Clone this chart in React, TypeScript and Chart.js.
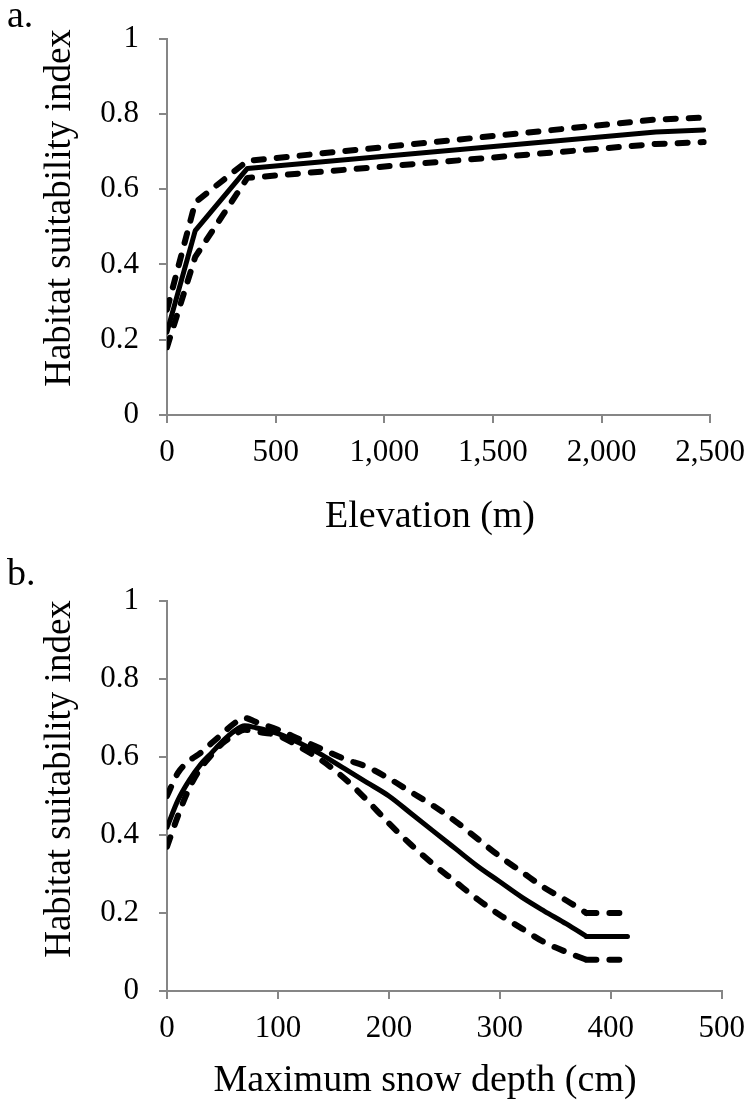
import React, { useEffect, useRef } from "react";
import { Chart, registerables } from "chart.js";

Chart.register(...registerables);

const FONT = '"Liberation Serif", "Times New Roman", serif';
const AXIS_GREY = "#868686";

// Panel a: elevation (m)
const elevationX = [0, 130, 370, 2250, 2470];
const elevationMean = [0.22, 0.49, 0.655, 0.752, 0.757];
const elevationUpper = [0.28, 0.565, 0.675, 0.785, 0.79];
const elevationLower = [0.18, 0.42, 0.63, 0.72, 0.725];
const elevationTicks = [0, 500, 1000, 1500, 2000, 2500];

// Panel b: maximum snow depth (cm) — smooth part, then flat tail
const snowX = [0, 10, 20, 30, 40, 50, 60, 70, 80, 100, 120, 140, 160, 180, 200, 220, 240, 260, 280, 300, 320, 340, 360, 378];
const snowMean = [0.42, 0.49, 0.54, 0.58, 0.61, 0.64, 0.665, 0.68, 0.675, 0.66, 0.635, 0.605, 0.57, 0.535, 0.5, 0.455, 0.41, 0.365, 0.32, 0.28, 0.24, 0.205, 0.172, 0.14];
const snowUpper = [0.5, 0.56, 0.59, 0.61, 0.635, 0.66, 0.685, 0.7, 0.69, 0.67, 0.645, 0.62, 0.595, 0.575, 0.545, 0.51, 0.475, 0.435, 0.39, 0.345, 0.305, 0.265, 0.232, 0.2];
const snowLower = [0.37, 0.45, 0.52, 0.57, 0.605, 0.635, 0.655, 0.67, 0.665, 0.655, 0.625, 0.59, 0.545, 0.49, 0.43, 0.375, 0.325, 0.28, 0.235, 0.195, 0.16, 0.125, 0.1, 0.08];
const snowTailX = [378, 415];
const snowTailMean = [0.14, 0.14];
const snowTailUpper = [0.2, 0.2];
const snowTailLower = [0.08, 0.08];
const snowTicks = [0, 100, 200, 300, 400, 500];

const yTicks = [0, 0.2, 0.4, 0.6, 0.8, 1];

const pts = (xs: number[], ys: number[]) => xs.map((x, i) => ({ x, y: ys[i] }));

type Series = { xs: number[]; ys: number[]; dashed: boolean; smooth: boolean };

type PanelProps = {
  height: number;
  series: Series[];
  xMax: number;
  xTicks: number[];
  plotTop: number;
  plotBottom: number;
  plotRight: number;
};

function Panel(p: PanelProps) {
  const ref = useRef<HTMLCanvasElement | null>(null);
  useEffect(() => {
    if (!ref.current) return;
    const datasets = p.series.map((s, i) => ({
      label: "s" + i,
      data: pts(s.xs, s.ys),
      borderColor: "#000",
      borderWidth: s.dashed ? 6 : 5,
      borderDash: s.dashed ? [10, 13] : [],
      borderCapStyle: "round",
      borderJoinStyle: "round",
      pointRadius: 0,
      fill: false,
      ...(s.smooth ? { cubicInterpolationMode: "monotone" } : { tension: 0 }),
    }));
    const axisCommon = {
      grid: {
        drawOnChartArea: false,
        drawTicks: true,
        tickLength: 8,
        color: AXIS_GREY,
        lineWidth: 2,
      },
      border: { display: true, color: AXIS_GREY, width: 2 },
    };
    const chart = new Chart(ref.current, {
      type: "line",
      data: { datasets },
      options: {
        responsive: false,
        animation: false,
        layout: { padding: { left: 0, right: 756 - p.plotRight, top: p.plotTop, bottom: 0 } },
        plugins: { legend: { display: false }, tooltip: { enabled: false } },
        scales: {
          x: {
            type: "linear",
            min: 0,
            max: p.xMax,
            afterFit: (s: any) => {
              s.height = p.height - p.plotBottom;
            },
            afterBuildTicks: (s: any) => {
              s.ticks = p.xTicks.map((v) => ({ value: v }));
            },
            ticks: {
              color: "#000",
              font: { family: FONT, size: 31 },
              padding: 11,
              maxRotation: 0,
              autoSkip: false,
              callback: (v: any) => Number(v).toLocaleString("en-US"),
            },
            ...axisCommon,
          },
          y: {
            type: "linear",
            min: 0,
            max: 1,
            afterFit: (s: any) => {
              s.width = 167;
            },
            afterBuildTicks: (s: any) => {
              s.ticks = yTicks.map((v) => ({ value: v }));
            },
            ticks: {
              color: "#000",
              font: { family: FONT, size: 31 },
              padding: 20,
              autoSkip: false,
              callback: (v: any) => (Number(v) === 0 || Number(v) === 1 ? String(v) : Number(v).toFixed(1)),
            },
            ...axisCommon,
          },
        },
      },
    } as any);
    return () => chart.destroy();
  }, []);
  return <canvas ref={ref} width={756} height={p.height} style={{ display: "block", width: 756, height: p.height }} />;
}

function XTitle({ text, cx, baseline }: { text: string; cx: number; baseline: number }) {
  const size = 38;
  return (
    <div
      style={{
        position: "absolute",
        left: cx,
        top: baseline - 32,
        transform: "translateX(-50%)",
        whiteSpace: "nowrap",
        fontFamily: FONT,
        fontSize: size,
        lineHeight: size + "px",
        color: "#000",
      }}
    >
      {text}
    </div>
  );
}

function YTitle({ text, cx, cy }: { text: string; cx: number; cy: number }) {
  const size = 37;
  return (
    <div
      style={{
        position: "absolute",
        left: cx,
        top: cy,
        transform: "translate(-50%, -50%) rotate(-90deg)",
        whiteSpace: "nowrap",
        fontFamily: FONT,
        fontSize: size,
        lineHeight: size + "px",
        color: "#000",
      }}
    >
      {text}
    </div>
  );
}

const labelStyle: React.CSSProperties = {
  position: "absolute",
  left: 7,
  fontFamily: FONT,
  fontSize: 38,
  lineHeight: "38px",
  color: "#000",
};

export default function App() {
  const seriesA: Series[] = [
    { xs: elevationX, ys: elevationUpper, dashed: true, smooth: false },
    { xs: elevationX, ys: elevationLower, dashed: true, smooth: false },
    { xs: elevationX, ys: elevationMean, dashed: false, smooth: false },
  ];
  const seriesB: Series[] = [
    { xs: snowX, ys: snowUpper, dashed: true, smooth: true },
    { xs: snowX, ys: snowLower, dashed: true, smooth: true },
    { xs: snowX, ys: snowMean, dashed: false, smooth: true },
    { xs: snowTailX, ys: snowTailUpper, dashed: true, smooth: false },
    { xs: snowTailX, ys: snowTailLower, dashed: true, smooth: false },
    { xs: snowTailX, ys: snowTailMean, dashed: false, smooth: false },
  ];
  return (
    <div style={{ position: "absolute", left: 0, top: 0, width: 756, height: 1102, background: "#fff", overflow: "hidden" }}>
      <div style={{ position: "absolute", left: 0, top: 0 }}>
        <Panel height={560} series={seriesA} xMax={2500} xTicks={elevationTicks} plotTop={33} plotBottom={415} plotRight={712} />
      </div>
      <div style={{ position: "absolute", left: 0, top: 560 }}>
        <Panel height={542} series={seriesB} xMax={500} xTicks={snowTicks} plotTop={41} plotBottom={431} plotRight={728} />
      </div>
      <YTitle text="Habitat suitability index" cx={57} cy={208} />
      <XTitle text="Elevation (m)" cx={430} baseline={527} />
      <YTitle text="Habitat suitability index" cx={57} cy={779} />
      <XTitle text="Maximum snow depth (cm)" cx={425} baseline={1091} />
      <div style={{ ...labelStyle, top: -5 }}>a.</div>
      <div style={{ ...labelStyle, top: 553 }}>b.</div>
    </div>
  );
}
